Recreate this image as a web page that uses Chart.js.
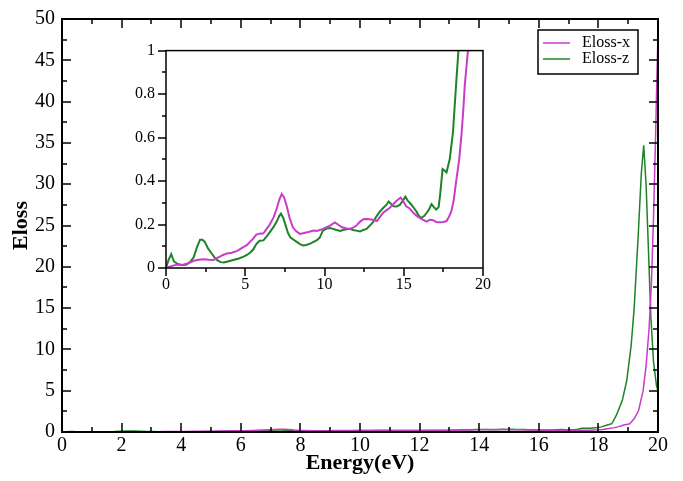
<!DOCTYPE html>
<html>
<head>
<meta charset="utf-8">
<title>Eloss</title>
<script src="https://cdn.jsdelivr.net/npm/chart.js@4"></script>
<style>
  html, body { margin: 0; padding: 0; background: #fff; }
  .plot { position: relative; width: 683px; height: 481px; }
  #mainChart { position: absolute; left: 0; top: 0; }
  #insetChart { position: absolute; left: 110px; top: 30px; }
</style>
</head>
<body>
<div class="plot">
  <canvas id="mainChart" width="683" height="481"></canvas>
  <canvas id="insetChart" width="390" height="280"></canvas>
</div>
<script>
var seriesNames = ['Eloss-x', 'Eloss-z'];
var seriesColors = ['#c83cc8', '#1e8228'];

var energyX = [0, 0.27, 0.5, 0.7, 1.1, 1.4, 1.75, 2.05, 2.37, 2.7, 3.0, 3.2, 3.4, 3.6, 3.85, 4.15, 4.5, 4.7, 4.9, 5.1,
  5.3, 5.5, 5.7, 5.9, 6.15, 6.35, 6.55, 6.8, 7.0, 7.15, 7.3, 7.45, 7.6, 7.8, 8.0, 8.2, 8.45, 8.65, 8.9, 9.1,
  9.3, 9.5, 9.7, 9.9, 10.1, 10.35, 10.65, 10.85, 11.1, 11.35, 11.6, 11.8, 12.0, 12.2, 12.45, 12.65, 12.85, 13.05, 13.3, 13.5,
  13.7, 13.9, 14.1, 14.3, 14.5, 14.65, 14.8, 14.95, 15.15, 15.35, 15.6, 15.8, 16.0, 16.2, 16.45, 16.65, 16.85, 17.05, 17.27, 17.5,
  17.7, 17.85, 18.0, 18.15, 18.3, 18.5, 18.65, 18.75, 18.85, 18.95, 19.05, 19.2, 19.35, 19.5, 19.6, 19.7, 19.78, 19.85, 19.92, 19.97, 20];
var elossX = [0, 0.007, 0.012, 0.015, 0.015, 0.022, 0.033, 0.038, 0.04, 0.038, 0.037, 0.045, 0.052, 0.06, 0.067, 0.07, 0.079, 0.088, 0.097, 0.105,
  0.12, 0.135, 0.154, 0.158, 0.16, 0.18, 0.2, 0.235, 0.276, 0.315, 0.34, 0.325, 0.29, 0.23, 0.187, 0.17, 0.157, 0.16, 0.164, 0.168,
  0.172, 0.17, 0.175, 0.18, 0.187, 0.195, 0.21, 0.2, 0.187, 0.183, 0.18, 0.186, 0.194, 0.21, 0.224, 0.225, 0.224, 0.222, 0.216, 0.235,
  0.254, 0.265, 0.276, 0.29, 0.306, 0.315, 0.324, 0.31, 0.284, 0.275, 0.254, 0.24, 0.23, 0.222, 0.213, 0.222, 0.22, 0.212, 0.21, 0.212,
  0.216, 0.235, 0.26, 0.31, 0.395, 0.5, 0.62, 0.72, 0.84, 0.92, 1.0, 1.6, 2.6, 5.0, 8.0, 12.5, 18.0, 26.0, 36.0, 44.0, 48.0];

var energyZ = [0, 0.15, 0.33, 0.5, 0.7, 0.9, 1.1, 1.3, 1.55, 1.75, 1.95, 2.15, 2.3, 2.45, 2.65, 2.85, 3.05, 3.25, 3.45, 3.65,
  3.9, 4.25, 4.6, 4.9, 5.1, 5.3, 5.5, 5.7, 5.9, 6.15, 6.35, 6.55, 6.8, 7.0, 7.15, 7.25, 7.4, 7.55, 7.7, 7.85,
  8.05, 8.25, 8.45, 8.65, 8.85, 9.1, 9.3, 9.5, 9.7, 9.9, 10.15, 10.35, 10.55, 10.75, 11.0, 11.2, 11.4, 11.6, 11.8, 12.0,
  12.25, 12.45, 12.65, 12.85, 13.05, 13.3, 13.5, 13.7, 13.9, 14.05, 14.2, 14.35, 14.55, 14.75, 14.95, 15.1, 15.25, 15.5, 15.65, 15.8,
  15.95, 16.1, 16.3, 16.45, 16.6, 16.75, 16.9, 17.05, 17.2, 17.3, 17.45, 17.55, 17.7, 17.9, 18.1, 18.3, 18.45, 18.6, 18.8, 18.95,
  19.1, 19.2, 19.33, 19.44, 19.52, 19.6, 19.68, 19.76, 19.85, 19.95, 20];
var elossZ = [0, 0.035, 0.064, 0.03, 0.02, 0.015, 0.014, 0.016, 0.03, 0.05, 0.095, 0.13, 0.13, 0.12, 0.09, 0.07, 0.05, 0.035, 0.027, 0.025,
  0.03, 0.037, 0.044, 0.052, 0.06, 0.07, 0.085, 0.11, 0.125, 0.127, 0.145, 0.165, 0.19, 0.216, 0.24, 0.25, 0.23, 0.195, 0.16, 0.14,
  0.13, 0.12, 0.11, 0.104, 0.106, 0.112, 0.12, 0.127, 0.14, 0.172, 0.182, 0.184, 0.18, 0.175, 0.17, 0.176, 0.178, 0.18, 0.175, 0.172,
  0.168, 0.175, 0.18, 0.194, 0.21, 0.24, 0.26, 0.276, 0.29, 0.306, 0.295, 0.284, 0.283, 0.29, 0.31, 0.328, 0.31, 0.29, 0.275, 0.26,
  0.24, 0.23, 0.24, 0.254, 0.27, 0.294, 0.28, 0.269, 0.28, 0.34, 0.455, 0.45, 0.44, 0.5, 0.62, 0.84, 1.0, 2.0, 3.8, 6.2,
  10.5, 15.0, 23.4, 31.3, 34.7, 30.0, 22.0, 14.0, 8.5, 5.6, 5.0];

var mainXTicks = [0, 2, 4, 6, 8, 10, 12, 14, 16, 18, 20];
var mainYTicks = [0, 5, 10, 15, 20, 25, 30, 35, 40, 45, 50];
var insetXTicks = [0, 5, 10, 15, 20];
var insetYTicks = [0, 0.2, 0.4, 0.6, 0.8, 1];

var SERIF = '"Liberation Serif", "DejaVu Serif", serif';

// frame box plus major/minor tick marks on the plot edges
var axisFrame = {
  id: 'axisFrame',
  afterDatasetsDraw: function (chart, args, opts) {
    var ctx = chart.ctx;
    var area = chart.chartArea;
    var xScale = chart.scales.x;
    var yScale = chart.scales.y;
    var dir = opts.inward ? 1 : -1;

    function xTick(value, len) {
      var px = Math.round(xScale.getPixelForValue(value));
      ctx.moveTo(px, area.bottom);
      ctx.lineTo(px, area.bottom - dir * len);
      if (opts.mirror) {
        ctx.moveTo(px, area.top);
        ctx.lineTo(px, area.top + dir * len);
      }
    }

    function yTick(value, len) {
      var py = Math.round(yScale.getPixelForValue(value));
      ctx.moveTo(area.left, py);
      ctx.lineTo(area.left + dir * len, py);
      if (opts.mirror) {
        ctx.moveTo(area.right, py);
        ctx.lineTo(area.right - dir * len, py);
      }
    }

    ctx.save();
    ctx.strokeStyle = '#000';
    ctx.lineWidth = opts.tickWidth;
    ctx.beginPath();
    opts.xMajor.forEach(function (v) { xTick(v, opts.majorLength); });
    midpoints(opts.xMajor).forEach(function (v) { xTick(v, opts.minorLength); });
    opts.yMajor.forEach(function (v) { yTick(v, opts.majorLength); });
    midpoints(opts.yMajor).forEach(function (v) { yTick(v, opts.minorLength); });
    ctx.stroke();

    ctx.lineWidth = opts.frameWidth;
    ctx.strokeRect(area.left, area.top, area.right - area.left, area.bottom - area.top);
    ctx.restore();
  }
};

// boxed legend in the upper right corner of the plot
var boxLegend = {
  id: 'boxLegend',
  afterDraw: function (chart) {
    var ctx = chart.ctx;
    var area = chart.chartArea;
    var left = area.right - 120;
    var top = area.top + 11;

    ctx.save();
    ctx.fillStyle = '#fff';
    ctx.fillRect(left, top, 100, 44);
    ctx.strokeStyle = '#000';
    ctx.lineWidth = 1.5;
    ctx.strokeRect(left, top, 100, 44);
    ctx.font = '16px ' + SERIF;
    ctx.textBaseline = 'middle';

    chart.data.datasets.forEach(function (ds, i) {
      var y = top + 13 + i * 16;
      ctx.strokeStyle = ds.borderColor;
      ctx.lineWidth = 1.5;
      ctx.beginPath();
      ctx.moveTo(left + 5, y);
      ctx.lineTo(left + 32, y);
      ctx.stroke();
      ctx.fillStyle = '#000';
      ctx.fillText(ds.label, left + 44, y);
    });
    ctx.restore();
  }
};

document.addEventListener('DOMContentLoaded', function () {
  initMainChart();
  initInsetChart();
});

function midpoints(values) {
  var out = [];
  for (var i = 1; i < values.length; i++) {
    out.push((values[i - 1] + values[i]) / 2);
  }
  return out;
}

function toPoints(xs, ys) {
  return xs.map(function (x, i) {
    return { x: x, y: ys[i] };
  });
}

function buildDatasets(width) {
  return [
    { label: seriesNames[0], data: toPoints(energyX, elossX), borderColor: seriesColors[0] },
    { label: seriesNames[1], data: toPoints(energyZ, elossZ), borderColor: seriesColors[1] }
  ].map(function (ds) {
    ds.borderWidth = width;
    ds.pointRadius = 0;
    ds.tension = 0;
    ds.fill = false;
    return ds;
  });
}

function fixedTicks(values) {
  return function (scale) {
    scale.ticks = values.map(function (v) { return { value: v }; });
  };
}

function axis(min, max, ticks, fontSize, padding, fit, title) {
  return {
    type: 'linear',
    min: min,
    max: max,
    afterBuildTicks: fixedTicks(ticks),
    afterFit: fit,
    grid: { display: false, drawTicks: false },
    border: { display: false },
    ticks: {
      color: '#000',
      padding: padding,
      autoSkip: false,
      maxRotation: 0,
      font: { family: SERIF, size: fontSize },
      callback: function (value) { return String(value); }
    },
    title: title || { display: false }
  };
}

function initMainChart() {
  var canvas = document.getElementById('mainChart');

  new Chart(canvas, {
    type: 'line',
    data: { datasets: buildDatasets(1.5) },
    options: {
      responsive: false,
      animation: false,
      layout: { padding: { left: 0, top: 14, right: 25, bottom: 0 } },
      plugins: {
        legend: { display: false },
        tooltip: { enabled: false },
        axisFrame: {
          inward: true,
          mirror: true,
          xMajor: mainXTicks,
          yMajor: mainYTicks,
          majorLength: 9,
          minorLength: 5,
          tickWidth: 1.5,
          frameWidth: 2
        }
      },
      scales: {
        x: axis(0, 20, mainXTicks, 20, 2, function (s) { s.height = 49; }, {
          display: true,
          text: 'Energy(eV)',
          color: '#000',
          padding: { top: 0, bottom: 4 },
          font: { family: SERIF, size: 22, weight: 'bold' }
        }),
        y: axis(0, 50, mainYTicks, 20, 7, function (s) { s.width = 62; }, {
          display: true,
          text: 'Eloss',
          color: '#000',
          padding: { top: 8, bottom: 0 },
          font: { family: SERIF, size: 22, weight: 'bold' }
        })
      }
    },
    plugins: [axisFrame, boxLegend]
  });
}

function initInsetChart() {
  var canvas = document.getElementById('insetChart');

  new Chart(canvas, {
    type: 'line',
    data: { datasets: buildDatasets(2) },
    options: {
      responsive: false,
      animation: false,
      layout: { padding: { left: 0, top: 15, right: 17, bottom: 0 } },
      plugins: {
        legend: { display: false },
        tooltip: { enabled: false },
        axisFrame: {
          inward: false,
          mirror: false,
          xMajor: insetXTicks,
          yMajor: insetYTicks,
          majorLength: 8,
          minorLength: 4,
          tickWidth: 1.5,
          frameWidth: 1.5
        }
      },
      scales: {
        x: axis(0, 20, insetXTicks, 16, 7, function (s) { s.height = 42; }),
        y: axis(0, 1, insetYTicks, 16, 11, function (s) { s.width = 56; })
      }
    },
    plugins: [axisFrame]
  });
}
</script>
</body>
</html>
